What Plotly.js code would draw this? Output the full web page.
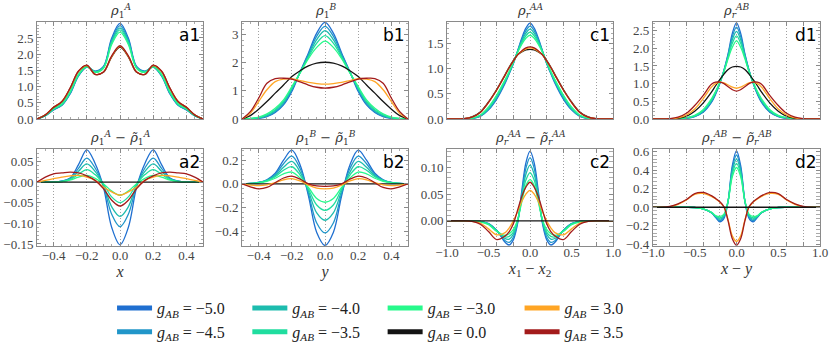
<!DOCTYPE html>
<html>
<head>
<meta charset="utf-8">
<script src="https://cdn.plot.ly/plotly-3.0.1.min.js"></script>
<style>body{margin:0;background:#fff}#chart{width:830px;height:351px}</style>
</head>
<body>
<div id="chart"></div>
<script>
// g_AB of each curve, same order in every panel below
const gValues = ['−5.0', '−4.5', '−4.0', '−3.5', '−3.0', '0.0', '3.0', '3.5'];

// positions (single particle panels and relative-coordinate panels)
const xAB = [-0.5, -0.45, -0.4, -0.35, -0.3, -0.25, -0.2, -0.15, -0.1, -0.05, 0, 0.05, 0.1, 0.15, 0.2, 0.25, 0.3, 0.35, 0.4, 0.45, 0.5];
const xCD = [-1, -0.9, -0.8, -0.7, -0.6, -0.5, -0.4, -0.3, -0.25, -0.2, -0.15, -0.1, -0.05, 0, 0.05, 0.1, 0.15, 0.2, 0.25, 0.3, 0.4, 0.5, 0.6, 0.7, 0.8, 0.9, 1];

// a1: rho_1^A
const a1Y = [
  [0, 0.1, 0.28, 0.42, 0.78, 1.33, 1.6, 1.48, 1.62, 2.5, 2.95, 2.5, 1.62, 1.48, 1.6, 1.33, 0.78, 0.42, 0.28, 0.1, 0],
  [0, 0.1, 0.29, 0.43, 0.8, 1.34, 1.61, 1.47, 1.6, 2.44, 2.88, 2.44, 1.6, 1.47, 1.61, 1.34, 0.8, 0.43, 0.29, 0.1, 0],
  [0, 0.1, 0.3, 0.44, 0.81, 1.35, 1.61, 1.46, 1.59, 2.4, 2.81, 2.4, 1.59, 1.46, 1.61, 1.35, 0.81, 0.44, 0.3, 0.1, 0],
  [0, 0.11, 0.31, 0.45, 0.83, 1.36, 1.62, 1.45, 1.58, 2.35, 2.75, 2.35, 1.58, 1.45, 1.62, 1.36, 0.83, 0.45, 0.31, 0.11, 0],
  [0, 0.11, 0.32, 0.47, 0.85, 1.38, 1.62, 1.44, 1.56, 2.3, 2.68, 2.3, 1.56, 1.44, 1.62, 1.38, 0.85, 0.47, 0.32, 0.11, 0],
  [0, 0.12, 0.36, 0.53, 0.95, 1.47, 1.65, 1.38, 1.44, 1.92, 2.22, 1.92, 1.44, 1.38, 1.65, 1.47, 0.95, 0.53, 0.36, 0.12, 0],
  [0, 0.13, 0.36, 0.54, 0.95, 1.47, 1.65, 1.38, 1.45, 1.93, 2.24, 1.93, 1.45, 1.38, 1.65, 1.47, 0.95, 0.54, 0.36, 0.13, 0],
  [0, 0.13, 0.36, 0.54, 0.96, 1.48, 1.66, 1.38, 1.45, 1.95, 2.26, 1.95, 1.45, 1.38, 1.66, 1.48, 0.96, 0.54, 0.36, 0.13, 0]
];
// a2: rho_1^A - tilde rho_1^A
const a2Y = [
  [0, 0, 0, 0.002, 0.01, 0.042, 0.078, 0.045, -0.012, -0.11, -0.152, -0.11, -0.012, 0.045, 0.078, 0.042, 0.01, 0.002, 0, 0, 0],
  [0, 0, 0, 0.002, 0.009, 0.033, 0.058, 0.034, -0.009, -0.078, -0.108, -0.078, -0.009, 0.034, 0.058, 0.033, 0.009, 0.002, 0, 0, 0],
  [0, 0, 0, 0.002, 0.008, 0.026, 0.044, 0.026, -0.007, -0.06, -0.083, -0.06, -0.007, 0.026, 0.044, 0.026, 0.008, 0.002, 0, 0, 0],
  [0, 0, 0, 0.001, 0.006, 0.019, 0.03, 0.018, -0.005, -0.036, -0.05, -0.036, -0.005, 0.018, 0.03, 0.019, 0.006, 0.001, 0, 0, 0],
  [0, 0, 0, 0.001, 0.005, 0.012, 0.016, 0.009, -0.004, -0.022, -0.032, -0.022, -0.004, 0.009, 0.016, 0.012, 0.005, 0.001, 0, 0, 0],
  [0, 0, 0, 0, 0, 0, 0, 0, 0, 0, 0, 0, 0, 0, 0, 0, 0, 0, 0, 0, 0],
  [0, 0.004, 0.008, 0.012, 0.015, 0.016, 0.012, 0.004, -0.012, -0.024, -0.032, -0.024, -0.012, 0.004, 0.012, 0.016, 0.015, 0.012, 0.008, 0.004, 0],
  [0, 0.012, 0.02, 0.022, 0.024, 0.022, 0.015, 0.004, -0.016, -0.044, -0.058, -0.044, -0.016, 0.004, 0.015, 0.022, 0.024, 0.022, 0.02, 0.012, 0]
];
// b1: rho_1^B
const b1Y = [
  [0, 0.005, 0.02, 0.08, 0.23, 0.5, 0.98, 1.68, 2.35, 3.06, 3.44, 3.06, 2.35, 1.68, 0.98, 0.5, 0.23, 0.08, 0.02, 0.005, 0],
  [0, 0.008, 0.03, 0.1, 0.26, 0.54, 1.03, 1.67, 2.3, 2.95, 3.3, 2.95, 2.3, 1.67, 1.03, 0.54, 0.26, 0.1, 0.03, 0.008, 0],
  [0, 0.01, 0.04, 0.12, 0.29, 0.58, 1.07, 1.66, 2.25, 2.83, 3.15, 2.83, 2.25, 1.66, 1.07, 0.58, 0.29, 0.12, 0.04, 0.01, 0],
  [0, 0.015, 0.05, 0.15, 0.33, 0.63, 1.11, 1.65, 2.2, 2.7, 2.97, 2.7, 2.2, 1.65, 1.11, 0.63, 0.33, 0.15, 0.05, 0.015, 0],
  [0, 0.02, 0.07, 0.18, 0.38, 0.68, 1.15, 1.64, 2.15, 2.55, 2.77, 2.55, 2.15, 1.64, 1.15, 0.68, 0.38, 0.18, 0.07, 0.02, 0],
  [0, 0.12, 0.35, 0.62, 0.92, 1.21, 1.51, 1.72, 1.89, 1.99, 2.02, 1.99, 1.89, 1.72, 1.51, 1.21, 0.92, 0.62, 0.35, 0.12, 0],
  [0, 0.2, 0.62, 1.04, 1.33, 1.42, 1.44, 1.37, 1.3, 1.26, 1.24, 1.26, 1.3, 1.37, 1.44, 1.42, 1.33, 1.04, 0.62, 0.2, 0],
  [0, 0.26, 0.74, 1.27, 1.44, 1.45, 1.42, 1.32, 1.21, 1.13, 1.1, 1.13, 1.21, 1.32, 1.42, 1.45, 1.44, 1.27, 0.74, 0.26, 0]
];
// b2: rho_1^B - tilde rho_1^B
const b2Y = [
  [0, 0.004, 0.012, 0.035, 0.09, 0.2, 0.285, 0.16, -0.1, -0.41, -0.52, -0.41, -0.1, 0.16, 0.285, 0.2, 0.09, 0.035, 0.012, 0.004, 0],
  [0, 0.004, 0.012, 0.032, 0.08, 0.17, 0.235, 0.13, -0.08, -0.33, -0.414, -0.33, -0.08, 0.13, 0.235, 0.17, 0.08, 0.032, 0.012, 0.004, 0],
  [0, 0.004, 0.011, 0.03, 0.07, 0.14, 0.19, 0.1, -0.06, -0.245, -0.307, -0.245, -0.06, 0.1, 0.19, 0.14, 0.07, 0.03, 0.011, 0.004, 0],
  [0, 0.003, 0.01, 0.027, 0.06, 0.115, 0.145, 0.075, -0.043, -0.178, -0.223, -0.178, -0.043, 0.075, 0.145, 0.115, 0.06, 0.027, 0.01, 0.003, 0],
  [0, 0.003, 0.009, 0.022, 0.048, 0.085, 0.1, 0.05, -0.03, -0.124, -0.155, -0.124, -0.03, 0.05, 0.1, 0.085, 0.048, 0.022, 0.009, 0.003, 0],
  [0, 0, 0, 0, 0, 0, 0, 0, 0, 0, 0, 0, 0, 0, 0, 0, 0, 0, 0, 0, 0],
  [0, -0.01, -0.015, -0.008, 0.01, 0.035, 0.045, 0.025, -0.01, -0.036, -0.042, -0.036, -0.01, 0.025, 0.045, 0.035, 0.01, -0.008, -0.015, -0.01, 0],
  [0, -0.025, -0.042, -0.03, 0.01, 0.05, 0.065, 0.04, 0, -0.017, -0.02, -0.017, 0, 0.04, 0.065, 0.05, 0.01, -0.03, -0.042, -0.025, 0]
];
// c1: rho_r^AA
const c1Y = [
  [0, 0, 0, 0.01, 0.05, 0.18, 0.4, 0.71, 0.9, 1.1, 1.35, 1.6, 1.8, 1.9, 1.8, 1.6, 1.35, 1.1, 0.9, 0.71, 0.4, 0.18, 0.05, 0.01, 0, 0, 0],
  [0, 0, 0, 0.011, 0.055, 0.19, 0.42, 0.73, 0.91, 1.11, 1.34, 1.57, 1.75, 1.84, 1.75, 1.57, 1.34, 1.11, 0.91, 0.73, 0.42, 0.19, 0.055, 0.011, 0, 0, 0],
  [0, 0, 0, 0.012, 0.06, 0.2, 0.44, 0.75, 0.92, 1.12, 1.34, 1.54, 1.7, 1.78, 1.7, 1.54, 1.34, 1.12, 0.92, 0.75, 0.44, 0.2, 0.06, 0.012, 0, 0, 0],
  [0, 0, 0, 0.014, 0.07, 0.22, 0.46, 0.76, 0.93, 1.12, 1.33, 1.51, 1.65, 1.72, 1.65, 1.51, 1.33, 1.12, 0.93, 0.76, 0.46, 0.22, 0.07, 0.014, 0, 0, 0],
  [0, 0, 0, 0.016, 0.08, 0.24, 0.48, 0.78, 0.95, 1.13, 1.32, 1.48, 1.6, 1.66, 1.6, 1.48, 1.32, 1.13, 0.95, 0.78, 0.48, 0.24, 0.08, 0.016, 0, 0, 0],
  [0, 0, 0.006, 0.04, 0.14, 0.34, 0.59, 0.88, 1.03, 1.16, 1.27, 1.33, 1.37, 1.38, 1.37, 1.33, 1.27, 1.16, 1.03, 0.88, 0.59, 0.34, 0.14, 0.04, 0.006, 0, 0],
  [0, 0, 0.005, 0.035, 0.13, 0.33, 0.58, 0.87, 1.02, 1.15, 1.27, 1.34, 1.39, 1.41, 1.39, 1.34, 1.27, 1.15, 1.02, 0.87, 0.58, 0.33, 0.13, 0.035, 0.005, 0, 0],
  [0, 0, 0.005, 0.035, 0.13, 0.33, 0.58, 0.87, 1.02, 1.15, 1.27, 1.35, 1.41, 1.43, 1.41, 1.35, 1.27, 1.15, 1.02, 0.87, 0.58, 0.33, 0.13, 0.035, 0.005, 0, 0]
];
// c2: rho_r^AA - tilde rho_r^AA
const c2Y = [
  [0, 0, 0, 0, -0.001, -0.005, -0.018, -0.04, -0.045, -0.035, -0.005, 0.055, 0.108, 0.13, 0.108, 0.055, -0.005, -0.035, -0.045, -0.04, -0.018, -0.005, -0.001, 0, 0, 0, 0],
  [0, 0, 0, 0, -0.001, -0.005, -0.018, -0.037, -0.04, -0.03, -0.003, 0.05, 0.098, 0.118, 0.098, 0.05, -0.003, -0.03, -0.04, -0.037, -0.018, -0.005, -0.001, 0, 0, 0, 0],
  [0, 0, 0, 0, -0.001, -0.006, -0.018, -0.033, -0.034, -0.025, -0.001, 0.045, 0.087, 0.104, 0.087, 0.045, -0.001, -0.025, -0.034, -0.033, -0.018, -0.006, -0.001, 0, 0, 0, 0],
  [0, 0, 0, 0, -0.001, -0.006, -0.019, -0.03, -0.029, -0.021, 0, 0.04, 0.076, 0.09, 0.076, 0.04, 0, -0.021, -0.029, -0.03, -0.019, -0.006, -0.001, 0, 0, 0, 0],
  [0, 0, 0, 0, -0.002, -0.007, -0.02, -0.027, -0.024, -0.016, 0.002, 0.035, 0.066, 0.077, 0.066, 0.035, 0.002, -0.016, -0.024, -0.027, -0.02, -0.007, -0.002, 0, 0, 0, 0],
  [0, 0, 0, 0, 0, 0, 0, 0, 0, 0, 0, 0, 0, 0, 0, 0, 0, 0, 0, 0, 0, 0, 0, 0, 0, 0, 0],
  [0, 0, 0, -0.001, -0.004, -0.015, -0.026, -0.022, -0.013, 0, 0.017, 0.036, 0.05, 0.057, 0.05, 0.036, 0.017, 0, -0.013, -0.022, -0.026, -0.015, -0.004, -0.001, 0, 0, 0],
  [0, 0, 0, -0.001, -0.006, -0.02, -0.035, -0.028, -0.02, -0.005, 0.02, 0.045, 0.063, 0.072, 0.063, 0.045, 0.02, -0.005, -0.02, -0.028, -0.035, -0.02, -0.006, -0.001, 0, 0, 0]
];
// d1: rho_r^AB
const d1Y = [
  [0, 0, 0, 0.004, 0.02, 0.07, 0.19, 0.47, 0.7, 1.0, 1.38, 1.85, 2.42, 2.72, 2.42, 1.85, 1.38, 1.0, 0.7, 0.47, 0.19, 0.07, 0.02, 0.004, 0, 0, 0],
  [0, 0, 0, 0.005, 0.024, 0.075, 0.2, 0.49, 0.72, 1.01, 1.37, 1.82, 2.33, 2.6, 2.33, 1.82, 1.37, 1.01, 0.72, 0.49, 0.2, 0.075, 0.024, 0.005, 0, 0, 0],
  [0, 0, 0, 0.006, 0.027, 0.08, 0.22, 0.51, 0.74, 1.02, 1.36, 1.78, 2.24, 2.48, 2.24, 1.78, 1.36, 1.02, 0.74, 0.51, 0.22, 0.08, 0.027, 0.006, 0, 0, 0],
  [0, 0, 0, 0.008, 0.032, 0.09, 0.24, 0.54, 0.76, 1.03, 1.35, 1.75, 2.14, 2.35, 2.14, 1.75, 1.35, 1.03, 0.76, 0.54, 0.24, 0.09, 0.032, 0.008, 0, 0, 0],
  [0, 0, 0, 0.01, 0.04, 0.1, 0.26, 0.57, 0.78, 1.04, 1.34, 1.71, 2.03, 2.21, 2.03, 1.71, 1.34, 1.04, 0.78, 0.57, 0.26, 0.1, 0.04, 0.01, 0, 0, 0],
  [0, 0, 0.003, 0.02, 0.08, 0.22, 0.45, 0.76, 0.94, 1.11, 1.27, 1.4, 1.47, 1.49, 1.47, 1.4, 1.27, 1.11, 0.94, 0.76, 0.45, 0.22, 0.08, 0.02, 0.003, 0, 0],
  [0, 0, 0.005, 0.03, 0.11, 0.28, 0.57, 0.9, 1.0, 1.04, 1.02, 0.96, 0.9, 0.87, 0.9, 0.96, 1.02, 1.04, 1.0, 0.9, 0.57, 0.28, 0.11, 0.03, 0.005, 0, 0],
  [0, 0, 0.01, 0.05, 0.16, 0.38, 0.66, 0.98, 1.04, 1.04, 1.0, 0.91, 0.83, 0.79, 0.83, 0.91, 1.0, 1.04, 1.04, 0.98, 0.66, 0.38, 0.16, 0.05, 0.01, 0, 0]
];
// d2: rho_r^AB - tilde rho_r^AB
const d2Y = [
  [0, 0, 0, 0, 0, -0.003, -0.018, -0.06, -0.11, -0.158, -0.12, 0.07, 0.45, 0.61, 0.45, 0.07, -0.12, -0.158, -0.11, -0.06, -0.018, -0.003, 0, 0, 0, 0, 0],
  [0, 0, 0, 0, 0, -0.003, -0.018, -0.06, -0.105, -0.145, -0.105, 0.07, 0.42, 0.565, 0.42, 0.07, -0.105, -0.145, -0.105, -0.06, -0.018, -0.003, 0, 0, 0, 0, 0],
  [0, 0, 0, 0, 0, -0.003, -0.018, -0.058, -0.1, -0.13, -0.095, 0.07, 0.39, 0.52, 0.39, 0.07, -0.095, -0.13, -0.1, -0.058, -0.018, -0.003, 0, 0, 0, 0, 0],
  [0, 0, 0, 0, 0, -0.003, -0.018, -0.056, -0.095, -0.115, -0.085, 0.07, 0.36, 0.475, 0.36, 0.07, -0.085, -0.115, -0.095, -0.056, -0.018, -0.003, 0, 0, 0, 0, 0],
  [0, 0, 0, 0, 0, -0.003, -0.018, -0.055, -0.09, -0.1, -0.075, 0.07, 0.33, 0.43, 0.33, 0.07, -0.075, -0.1, -0.09, -0.055, -0.018, -0.003, 0, 0, 0, 0, 0],
  [0, 0, 0, 0, 0, 0, 0, 0, 0, 0, 0, 0, 0, 0, 0, 0, 0, 0, 0, 0, 0, 0, 0, 0, 0, 0, 0],
  [0, 0, 0.005, 0.03, 0.078, 0.14, 0.15, 0.118, 0.09, 0.055, 0, -0.14, -0.31, -0.37, -0.31, -0.14, 0, 0.055, 0.09, 0.118, 0.15, 0.14, 0.078, 0.03, 0.005, 0, 0],
  [0, 0, 0.008, 0.036, 0.083, 0.148, 0.16, 0.125, 0.095, 0.06, 0.005, -0.15, -0.34, -0.41, -0.34, -0.15, 0.005, 0.06, 0.095, 0.125, 0.16, 0.148, 0.083, 0.036, 0.008, 0, 0]
];

const lineColors = ['#1f6fd0', '#2196c9', '#1dbcae', '#20dd9f', '#27f98b', '#141414', '#ffa524', '#a31b1b'];
const legendIds = ['legend', 'legend', 'legend2', 'legend2', 'legend3', 'legend3', 'legend4', 'legend4'];

const serif = '"Liberation Serif", "DejaVu Serif", serif';
const colDom = [[0.0446, 0.2446], [0.2916, 0.4916], [0.5386, 0.7386], [0.7867, 0.988]];
const rowDom = [[0.661, 0.937], [0.299, 0.5755]];

const rho = '<i>ρ</i>', rhoT = '<i>ρ̃</i>';
const panels = [
  {id: '', ys: a1Y, xs: xAB, col: 0, row: 0, yr: [0, 2.99], dy: 0.5, fy: '.1f', tag: 'a1', title: rho + '<sub>1</sub><sup><i>A</i></sup>'},
  {id: '2', ys: b1Y, xs: xAB, col: 1, row: 0, yr: [0, 3.45], dy: 1, fy: 'd', tag: 'b1', title: rho + '<sub>1</sub><sup><i>B</i></sup>'},
  {id: '3', ys: c1Y, xs: xCD, col: 2, row: 0, yr: [0, 1.92], dy: 0.5, fy: '.1f', tag: 'c1', title: rho + '<sub><i>r</i></sub><sup><i>AA</i></sup>'},
  {id: '4', ys: d1Y, xs: xCD, col: 3, row: 0, yr: [0, 2.74], dy: 0.5, fy: '.1f', tag: 'd1', title: rho + '<sub><i>r</i></sub><sup><i>AB</i></sup>'},
  {id: '5', ys: a2Y, xs: xAB, col: 0, row: 1, yr: [-0.155, 0.08], dy: 0.05, fy: '.2f', tag: 'a2',
    title: rho + '<sub>1</sub><sup><i>A</i></sup> − ' + rhoT + '<sub>1</sub><sup><i>A</i></sup>', xt: '<i>x</i>'},
  {id: '6', ys: b2Y, xs: xAB, col: 1, row: 1, yr: [-0.525, 0.295], dy: 0.2, fy: '.1f', tag: 'b2',
    title: rho + '<sub>1</sub><sup><i>B</i></sup> − ' + rhoT + '<sub>1</sub><sup><i>B</i></sup>', xt: '<i>y</i>'},
  {id: '7', ys: c2Y, xs: xCD, col: 2, row: 1, yr: [-0.047, 0.134], dy: 0.05, fy: '.2f', tag: 'c2', ov: '9',
    title: rho + '<sub><i>r</i></sub><sup><i>AA</i></sup> − ' + rhoT + '<sub><i>r</i></sub><sup><i>AA</i></sup>', xt: '<i>x</i><sub>1</sub> − <i>x</i><sub>2</sub>'},
  {id: '8', ys: d2Y, xs: xCD, col: 3, row: 1, yr: [-0.42, 0.63], dy: 0.2, fy: '.1f', tag: 'd2', ov: '10',
    title: rho + '<sub><i>r</i></sub><sup><i>AB</i></sup> − ' + rhoT + '<sub><i>r</i></sub><sup><i>AB</i></sup>', xt: '<i>x</i> − <i>y</i>'}
];

const tickFont = {family: serif, size: 13, color: '#444'};
const frame = {
  showline: true, mirror: 'allticks', linecolor: '#8a8a8a', linewidth: 1,
  ticks: 'inside', ticklen: 4, tickcolor: '#8a8a8a', zeroline: false, tickfont: tickFont
};

const data = [];
const layout = {
  width: 830, height: 351,
  margin: {l: 0, r: 0, t: 0, b: 0},
  paper_bgcolor: '#fff', plot_bgcolor: '#fff',
  font: {family: serif},
  annotations: []
};

panels.forEach(function(p) {
  const wide = p.xs === xCD;
  const xr = wide ? [-1, 1] : [-0.5, 0.5];
  const labelled = p.row === 1 && !wide;
  const xa = Object.assign({}, frame, {
    domain: colDom[p.col], anchor: 'y' + p.id, range: xr,
    tick0: 0, dtick: 0.2, tickformat: '.1f',
    showticklabels: labelled, ticklabelstandoff: -3,
    showgrid: true, gridcolor: '#a0a0a0', griddash: '1px,2px', gridwidth: 1
  });
  if (!wide) xa.minor = {ticks: 'inside', ticklen: 2, dtick: 0.05, tickcolor: '#aaa', showgrid: false};
  if (labelled) xa.title = {text: p.xt, font: {family: serif, size: 16, color: '#333'}, standoff: 0};
  layout['xaxis' + p.id] = xa;
  layout['yaxis' + p.id] = Object.assign({}, frame, {
    domain: rowDom[p.row], anchor: 'x' + p.id, range: p.yr,
    tick0: 0, dtick: p.dy, tickformat: p.fy, showgrid: false,
    minor: {ticks: 'inside', ticklen: 2, dtick: p.dy / 5, tickcolor: '#aaa', showgrid: false}
  });
  if (p.ov) {
    // labels every 0.5 on top of the 0.2 grid
    layout['xaxis' + p.ov] = {
      overlaying: 'x' + p.id, anchor: 'y' + p.id, range: xr,
      tick0: 0, dtick: 0.5, tickformat: '.1f', ticks: '', showline: false, ticklabelstandoff: -3,
      showgrid: false, zeroline: false, tickfont: tickFont,
      title: {text: p.xt, font: {family: serif, size: 16, color: '#333'}, standoff: 0}
    };
  }

  p.ys.forEach(function(y, j) {
    // the g=0 curve of c2/d2 is carried by the labelled overlay axis
    const onOv = p.ov && j === 5;
    data.push({
      x: p.xs, y: y, xaxis: 'x' + (onOv ? p.ov : p.id), yaxis: 'y' + p.id,
      type: 'scatter', mode: 'lines',
      line: {color: lineColors[j], width: 1.3, shape: 'spline'},
      showlegend: false, hoverinfo: 'skip'
    });
  });

  const dx = 'x' + p.id + ' domain', dyRef = 'y' + p.id + ' domain';
  layout.annotations.push({
    xref: dx, yref: dyRef, x: 0.5, y: 1, xanchor: 'center', yanchor: 'bottom', yshift: 0,
    text: p.title, showarrow: false, font: {family: 'DejaVu Serif', size: 13, color: '#333'}
  });
  layout.annotations.push({
    xref: dx, yref: dyRef, x: 1, y: 1, xanchor: 'right', yanchor: 'top', xshift: -1, yshift: -1,
    text: p.tag, showarrow: false, font: {family: 'DejaVu Sans', size: 17, color: '#000'}
  });
});

// legend entries: thick line samples
gValues.forEach(function(g, j) {
  data.push({
    x: [null], y: [null], xaxis: 'x', yaxis: 'y', type: 'scatter', mode: 'lines',
    line: {color: lineColors[j], width: 5},
    name: '<i>g</i><sub><i>AB</i></sub> = ' + g,
    legend: legendIds[j], showlegend: true, hoverinfo: 'skip'
  });
});

const legX = [0.135, 0.298, 0.461, 0.626];
['legend', 'legend2', 'legend3', 'legend4'].forEach(function(id, k) {
  layout[id] = {
    x: legX[k], y: 0.088, xanchor: 'left', yanchor: 'middle', orientation: 'v',
    bgcolor: 'rgba(0,0,0,0)', borderwidth: 0, tracegroupgap: 0, itemwidth: 35,
    font: {family: serif, size: 16, color: '#222'}
  };
});

Plotly.newPlot('chart', data, layout, {displayModeBar: false, staticPlot: true});
</script>
</body>
</html>
